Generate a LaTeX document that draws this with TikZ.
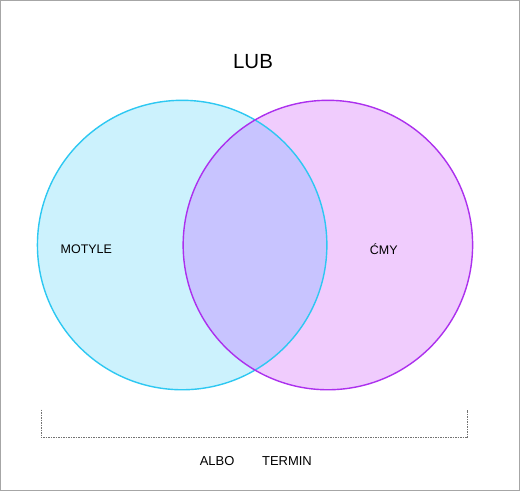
\documentclass[tikz,border=0pt]{standalone}
\usepackage{fontspec}
\setmainfont{Liberation Sans}
\usepackage{xcolor}
\usetikzlibrary{positioning}

\definecolor{mothfill}{RGB}{204,242,253}
\definecolor{mothline}{RGB}{45,200,242}
\definecolor{nightfill}{RGB}{240,204,253}
\definecolor{nightline}{RGB}{172,48,238}
\definecolor{bothfill}{RGB}{200,196,255}

\begin{document}
\begin{tikzpicture}[
    x=1pt, y=-1pt,
    set/.style={
        circle,
        minimum size=290pt,
        inner sep=0pt,
        line width=1.4pt
    },
    setname/.style={
        font=\fontsize{12.5}{14}\selectfont,
        inner sep=0pt
    },
    lowname/.style={
        font=\fontsize{13}{15}\selectfont,
        inner sep=0pt
    }
]

\draw[gray!70, line width=1pt, fill=white] (0,0) rectangle (520,491);

\node[set, fill=mothfill] (motyle) at (182,245) {};
\node[set, fill=nightfill] (cmy) at (328,245) {};
\begin{scope}
    \clip (182,245) circle[radius=145];
    \fill[bothfill] (328,245) circle[radius=145];
\end{scope}
\draw[mothline, line width=1.4pt] (motyle.center) circle[radius=145];
\draw[nightline, line width=1.4pt] (cmy.center) circle[radius=145];

\node[font=\fontsize{20.5}{24}\selectfont] (lub) at (253,61) {LUB};
\node[setname] (motylelabel) at (86,249) {MOTYLE};
\node[setname] (cmylabel) at (384,249) {ĆMY};

\coordinate (bl) at (41,410);
\coordinate (br) at (468,410);
\draw[gray!90!black, densely dotted, line width=1.5pt] (bl) -- ++(0,28) -| (br);

\node[lowname] (albo) at (217,461) {ALBO};
\node[lowname] (termin) at (287,461) {TERMIN};

\end{tikzpicture}
\end{document}
